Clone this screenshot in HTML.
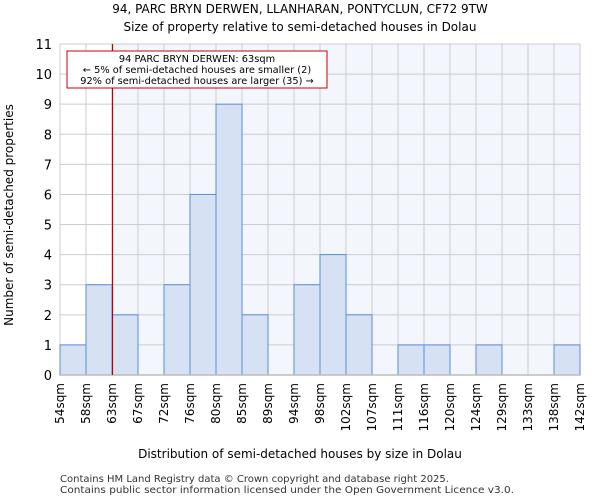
<!DOCTYPE html>
<html><head><meta charset="utf-8"><style>
body{margin:0;background:#fff;font-family:"DejaVu Sans","Liberation Sans",sans-serif}
</style></head><body>
<svg id="c" width="600" height="500" xmlns="http://www.w3.org/2000/svg" font-family="DejaVu Sans, Liberation Sans, sans-serif">
<text x="300" y="13" text-anchor="middle" font-size="12">94, PARC BRYN DERWEN, LLANHARAN, PONTYCLUN, CF72 9TW</text>
<text x="300" y="31" text-anchor="middle" font-size="12">Size of property relative to semi-detached houses in Dolau</text>
<g id="plot"></g>
<text x="300" y="458" text-anchor="middle" font-size="12">Distribution of semi-detached houses by size in Dolau</text>
<text x="13" y="215" text-anchor="middle" font-size="12" transform="rotate(-90 13 215)">Number of semi-detached properties</text>
<text x="60" y="482" font-size="10" fill="#333">Contains HM Land Registry data © Crown copyright and database right 2025.</text>
<text x="60" y="493" font-size="10" fill="#333" textLength="454" lengthAdjust="spacingAndGlyphs">Contains public sector information licensed under the Open Government Licence v3.0.</text>
</svg>
<script>
const tickLabels=["54sqm","58sqm","63sqm","67sqm","72sqm","76sqm","80sqm","85sqm","89sqm","94sqm","98sqm","102sqm","107sqm","111sqm","116sqm","120sqm","124sqm","129sqm","133sqm","138sqm","142sqm"];
const counts=[1,3,2,0,3,6,9,2,0,3,4,2,0,1,1,0,1,0,0,1];
const yTicks=[0,1,2,3,4,5,6,7,8,9,10,11];
const markerIndex=2;
const NS="http://www.w3.org/2000/svg";
const g=document.getElementById('plot');
const L=60,R=580,T=44,B=375,yMax=11;
const bw=(R-L)/counts.length;
const xs=i=>L+i*bw;
const ys=v=>B-(v/yMax)*(B-T);
function mk(t,a){const e=document.createElementNS(NS,t);for(const k in a)e.setAttribute(k,a[k]);g.appendChild(e);return e;}
let e=mk('rect',{x:L,y:T,width:R-L,height:B-T,fill:'#f3f6fd'});


e=mk('rect',{x:L,y:T,width:xs(markerIndex)-L,height:B-T,fill:'#fff'});


yTicks.forEach(v=>{
 let l=mk('line',{x1:L,x2:R,y1:ys(v),y2:ys(v),stroke:'#ccc','stroke-width':1});
 
 
 let t=mk('text',{x:L-8,y:ys(v)+5,'text-anchor':'end','font-size':13});
 t.textContent=v;
 
 
});
tickLabels.forEach((s,i)=>{
 let l=mk('line',{x1:xs(i),x2:xs(i),y1:T,y2:B,stroke:'#ccc','stroke-width':1});
 
 
 let x=xs(i)+4,y=B+8;
 let t=mk('text',{x:x,y:y,'text-anchor':'end','font-size':12,transform:`rotate(-90 ${x} ${y})`});
 t.textContent=s;
 
 
});
counts.forEach((c,i)=>{
 if(c<=0)return;
 let r=mk('rect',{x:xs(i),y:ys(c),width:bw,height:B-ys(c),fill:'#d6e2f3',stroke:'#5b8dd6','stroke-width':1});
 
 
});
e=mk('line',{x1:L,x2:R,y1:B,y2:B,stroke:'#bbb','stroke-width':1.5});


e=mk('line',{x1:xs(markerIndex)+0.5,x2:xs(markerIndex)+0.5,y1:T,y2:B,stroke:'#b00','stroke-width':1.2});


e=mk('rect',{x:67,y:51,width:260,height:37,fill:'#fff',stroke:'#c00','stroke-width':1});


["94 PARC BRYN DERWEN: 63sqm","← 5% of semi-detached houses are smaller (2)","92% of semi-detached houses are larger (35) →"].forEach((s,i)=>{
 let t=mk('text',{x:197,y:62+i*11,'text-anchor':'middle','font-size':9.8});
 t.textContent=s;
 
 
});
</script>
</body></html>
